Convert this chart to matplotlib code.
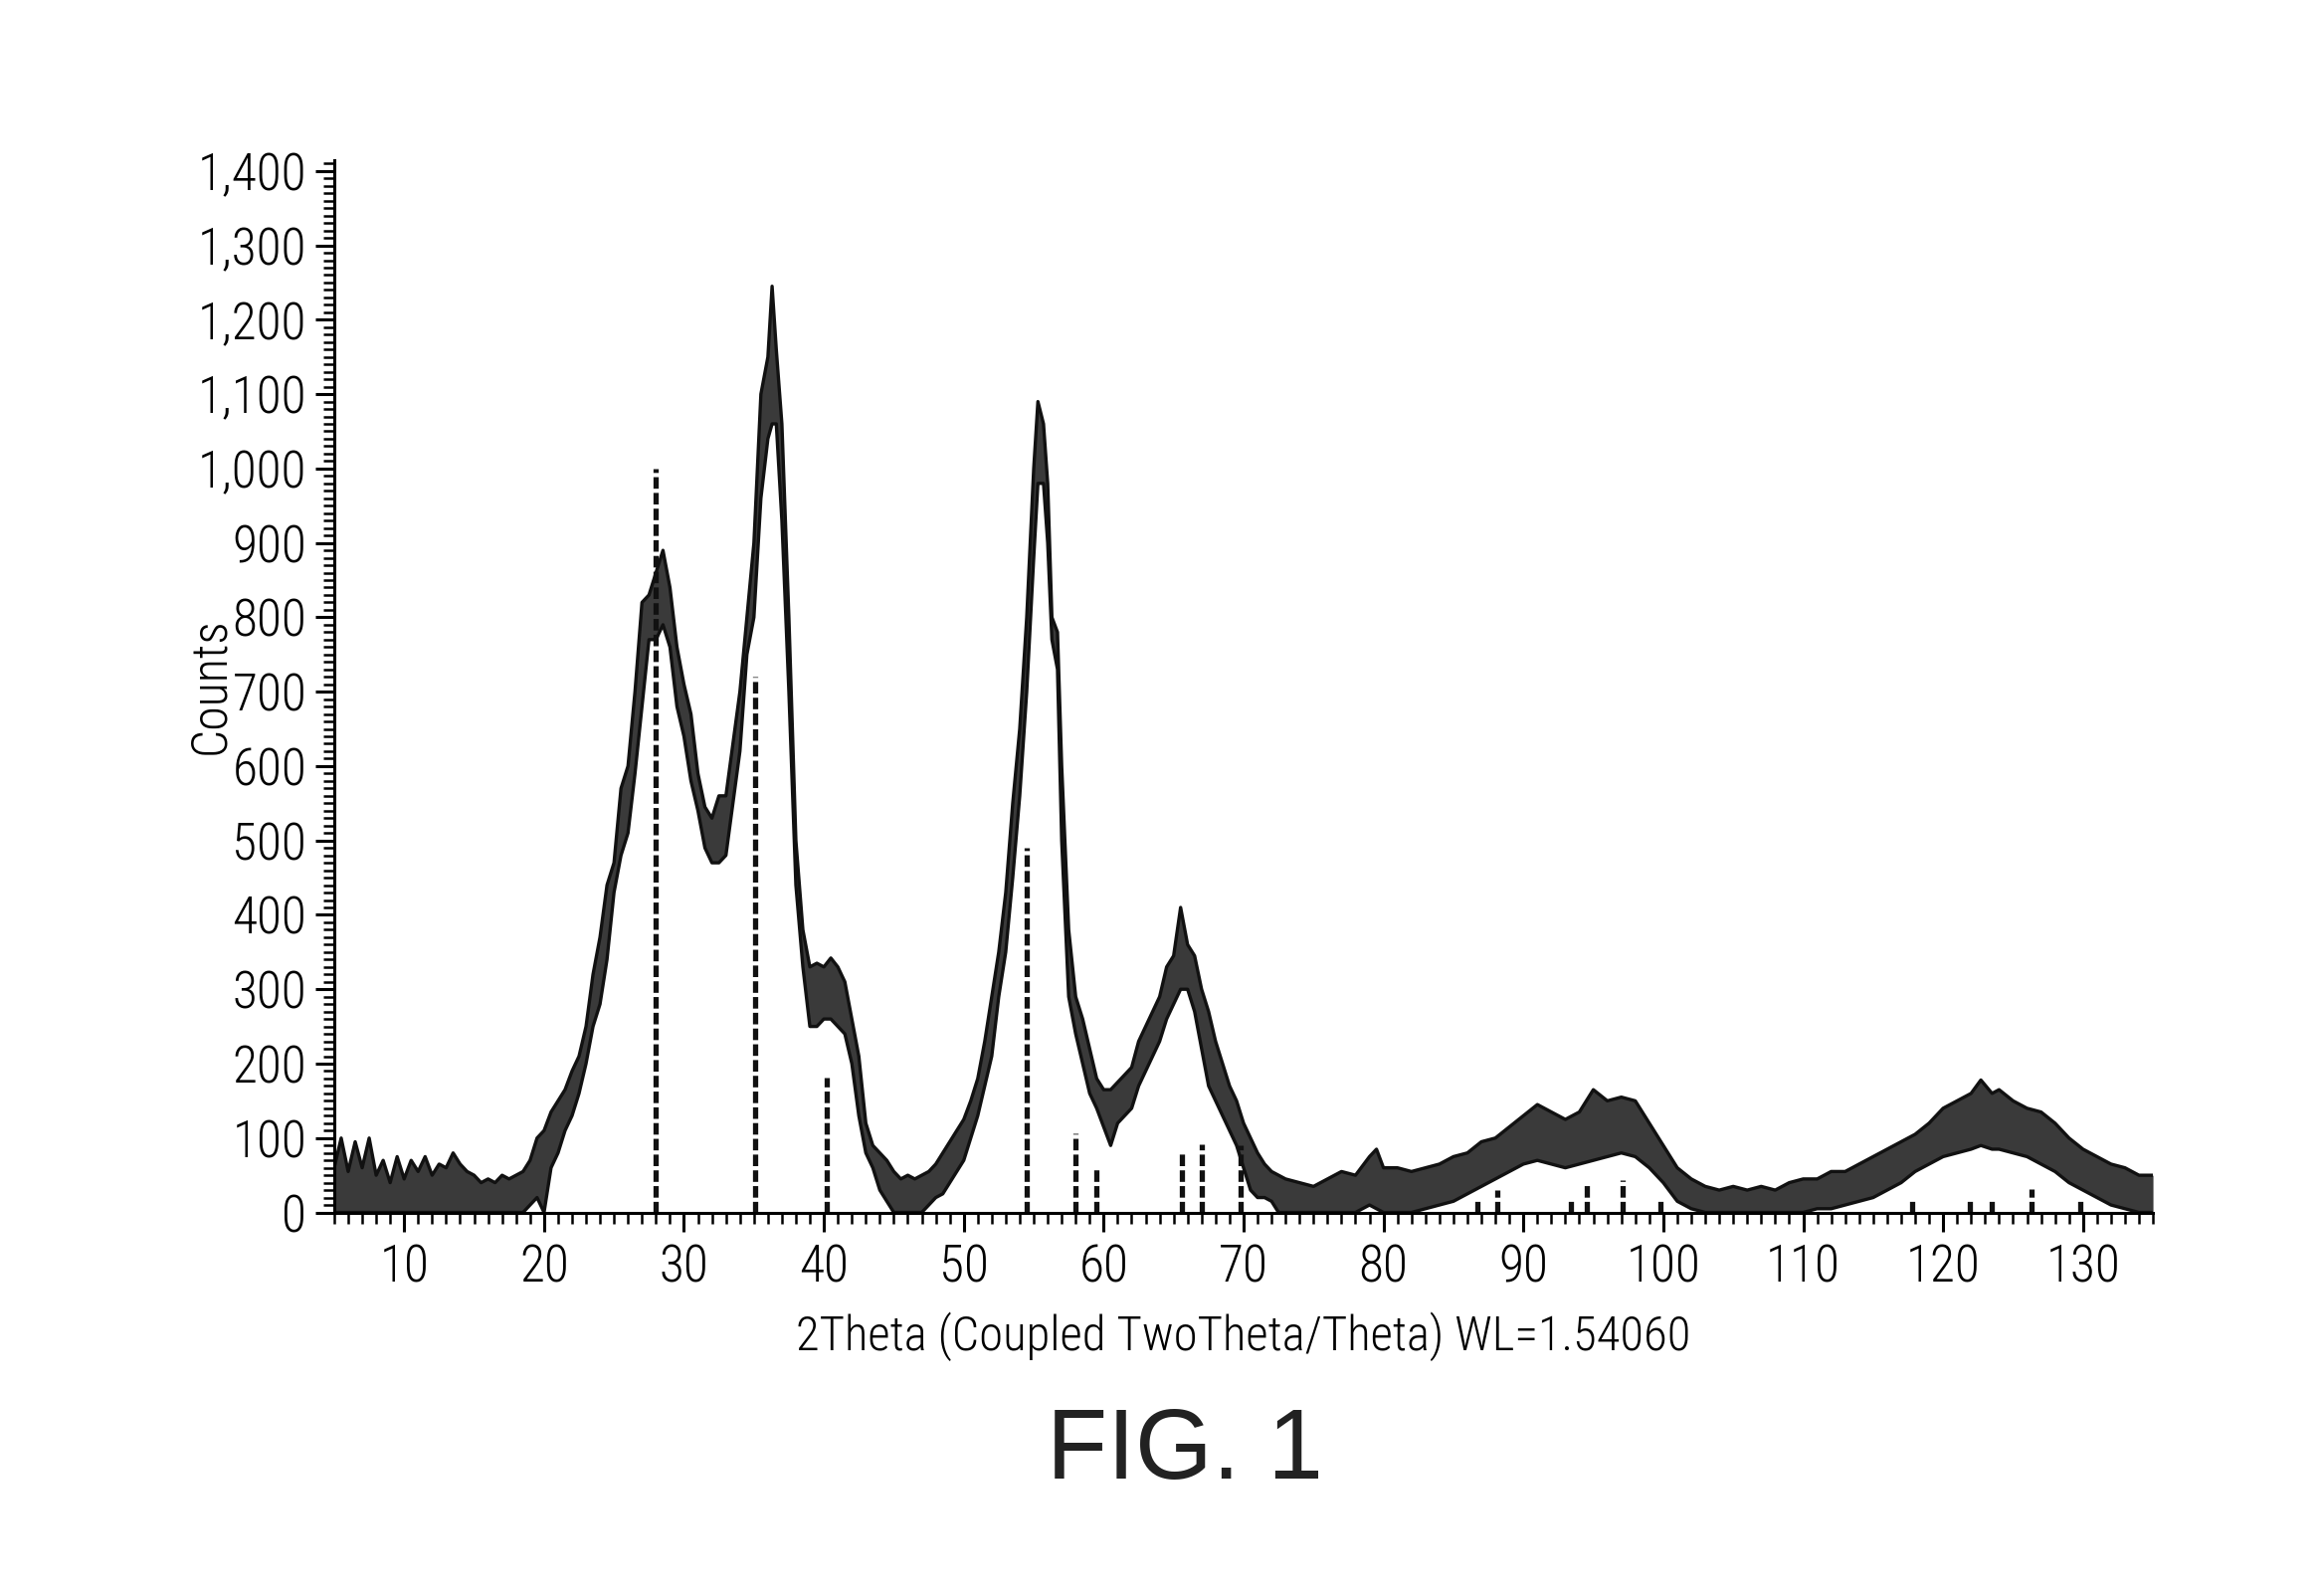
import numpy as np
import matplotlib.pyplot as plt
from matplotlib.ticker import MultipleLocator, FuncFormatter

plt.rcParams['font.family'] = ['Roboto Condensed', 'DejaVu Sans Condensed', 'Liberation Sans Narrow', 'Liberation Sans']
plt.rcParams['font.weight'] = 'light'
plt.rcParams['axes.labelweight'] = 'light'

# measured pattern, read as lower / upper edge of the noisy trace
two_theta = [5.0, 5.5, 6.0, 6.5, 7.0, 7.5, 8.0, 8.5, 9.0, 9.5, 10.0, 10.5, 11.0, 11.5, 12.0,
             12.5, 13.0, 13.5, 14.0, 14.5, 15.0, 15.5, 16.0, 16.5, 17.0, 17.5, 18.0, 18.5,
             19.0, 19.5, 20.0, 20.5, 21.0, 21.5, 22.0, 22.5, 23.0, 23.5, 24.0, 24.5, 25.0,
             25.5, 26.0, 26.5, 27.0, 27.5, 28.0, 28.5, 29.0, 29.5, 30.0, 30.5, 31.0, 31.5,
             32.0, 32.5, 33.0, 33.5, 34.0, 34.5, 35.0, 35.5, 36.0, 36.3, 36.6, 37.0, 37.5,
             38.0, 38.5, 39.0, 39.5, 40.0, 40.5, 41.0, 41.5, 42.0, 42.5, 43.0, 43.5, 44.0,
             44.5, 45.0, 45.5, 46.0, 46.5, 47.0, 47.5, 48.0, 48.5, 49.0, 49.5, 50.0, 50.5,
             51.0, 51.5, 52.0, 52.5, 53.0, 53.5, 54.0, 54.5, 55.0, 55.3, 55.7, 56.0, 56.3,
             56.7, 57.0, 57.5, 58.0, 58.5, 59.0, 59.5, 60.0, 60.5, 61.0, 61.5, 62.0, 62.5,
             63.0, 63.5, 64.0, 64.5, 65.0, 65.5, 66.0, 66.5, 67.0, 67.5, 68.0, 68.5, 69.0,
             69.5, 70.0, 70.5, 71.0, 71.5, 72.0, 72.5, 73.0, 74.0, 75.0, 76.0, 77.0, 78.0,
             79.0, 79.5, 80.0, 81.0, 82.0, 83.0, 84.0, 85.0, 86.0, 87.0, 88.0, 89.0, 90.0,
             91.0, 92.0, 93.0, 94.0, 95.0, 96.0, 97.0, 98.0, 99.0, 100.0, 101.0, 102.0,
             103.0, 104.0, 105.0, 106.0, 107.0, 108.0, 109.0, 110.0, 111.0, 112.0, 113.0,
             114.0, 115.0, 116.0, 117.0, 118.0, 119.0, 120.0, 121.0, 122.0, 122.7, 123.5,
             124.0, 125.0, 126.0, 127.0, 128.0, 129.0, 130.0, 131.0, 132.0, 133.0, 134.0,
             135.0]
counts_low = [0, 0, 0, 0, 0, 0, 0, 0, 0, 0, 0, 0, 0, 0, 0,
              0, 0, 0, 0, 0, 0, 0, 0, 0, 0, 0, 0, 0,
              10, 20, 0, 60, 80, 110, 130, 160, 200, 250, 280, 340, 430,
              480, 510, 590, 680, 770, 770, 790, 760, 680, 640, 580, 540, 490,
              470, 470, 480, 550, 620, 750, 800, 960, 1040, 1060, 1060, 930, 700,
              440, 330, 250, 250, 260, 260, 250, 240, 200, 130, 80, 60, 30,
              15, 0, 0, 0, 0, 0, 10, 20, 25, 40, 55, 70, 100,
              130, 170, 210, 290, 350, 450, 560, 700, 880, 980, 980, 900, 770,
              730, 500, 290, 240, 200, 160, 140, 115, 90, 120, 130, 140, 170,
              190, 210, 230, 260, 280, 300, 300, 270, 220, 170, 150, 130, 110,
              90, 60, 30, 20, 20, 15, 0, 0, 0, 0, 0, 0, 0,
              10, 5, 0, 0, 0, 5, 10, 15, 25, 35, 45, 55, 65,
              70, 65, 60, 65, 70, 75, 80, 75, 60, 40, 15, 5,
              0, 0, 0, 0, 0, 0, 0, 0, 5, 5, 10,
              15, 20, 30, 40, 55, 65, 75, 80, 85, 90, 85,
              85, 80, 75, 65, 55, 40, 30, 20, 10, 5, 0,
              0]
counts_high = [60, 100, 55, 95, 60, 100, 50, 70, 40, 75, 45, 70, 55, 75, 50,
               65, 60, 80, 65, 55, 50, 40, 45, 40, 50, 45, 50, 55,
               70, 100, 110, 135, 150, 165, 190, 210, 250, 320, 370, 440, 470,
               570, 600, 700, 820, 830, 860, 890, 840, 760, 710, 670, 590, 545,
               530, 560, 560, 630, 700, 800, 900, 1100, 1150, 1245, 1160, 1060, 800,
               500, 380, 330, 335, 330, 342, 330, 310, 260, 210, 120, 90, 80,
               70, 55, 45, 50, 45, 50, 55, 65, 80, 95, 110, 125, 150,
               180, 230, 290, 350, 430, 550, 650, 800, 1000, 1090, 1060, 980, 800,
               780, 600, 380, 290, 260, 220, 180, 165, 165, 175, 185, 195, 230,
               250, 270, 290, 330, 345, 410, 360, 345, 300, 270, 230, 200, 170,
               150, 120, 100, 80, 65, 55, 50, 45, 40, 35, 45, 55, 50,
               75, 85, 60, 60, 55, 60, 65, 75, 80, 95, 100, 115, 130,
               145, 135, 125, 135, 165, 150, 155, 150, 120, 90, 60, 45,
               35, 30, 35, 30, 35, 30, 40, 45, 45, 55, 55,
               65, 75, 85, 95, 105, 120, 140, 150, 160, 178, 160,
               165, 150, 140, 135, 120, 100, 85, 75, 65, 60, 50,
               50]

# reference pattern sticks
stick_pos = [28.0, 35.1, 40.2, 54.5, 58.0, 59.5, 65.6, 67.0, 69.8, 86.7, 88.1, 93.4,
             94.5, 97.1, 99.8, 117.8, 121.9, 123.5, 126.3, 129.8]
stick_height = [1000, 720, 181, 490, 106, 59, 84, 92, 90, 17, 30, 18,
                41, 44, 17, 19, 17, 19, 32, 19]

fig = plt.figure(figsize=(23.36, 16.01), dpi=100)
ax = fig.add_axes([0.1438, 0.2389, 0.7826, 0.6608])

ax.fill_between(two_theta, counts_low, counts_high, color='#3a3a3a', lw=0)
ax.plot(two_theta, counts_high, color='#111111', lw=2.4)
ax.plot(two_theta, counts_low, color='#111111', lw=2.4)
ax.vlines(stick_pos, 0, stick_height, colors='#111111', linestyles=(0, (2.2, 0.8)), lw=3.8)

ax.set_xlim(5, 135)
ax.set_ylim(0, 1415)

for s in ['top', 'right']:
    ax.spines[s].set_visible(False)
for s in ['left', 'bottom']:
    ax.spines[s].set_linewidth(2.2)

ax.xaxis.set_major_locator(MultipleLocator(10))
ax.xaxis.set_minor_locator(MultipleLocator(1))
ax.yaxis.set_major_locator(MultipleLocator(100))
ax.yaxis.set_minor_locator(MultipleLocator(10))
ax.yaxis.set_major_formatter(FuncFormatter(lambda v, p: f"{int(v):,}"))

ax.tick_params(which='major', direction='out', length=14, width=2.2, labelsize=37)
ax.tick_params(which='minor', direction='out', length=8, width=1.8)
ax.tick_params(axis='x', which='major', pad=8)
ax.tick_params(axis='y', which='major', pad=6)

ax.set_xlabel('2Theta (Coupled TwoTheta/Theta) WL=1.54060', fontsize=35, va='center', fontweight='light')
ax.xaxis.set_label_coords(0.5, -0.118)
ax.set_ylabel('Counts', fontsize=36, va='center', fontweight='light')
ax.yaxis.set_label_coords(-0.068, 0.5)

fig.text(0.510, 0.088, 'FIG. 1', fontsize=72, ha='center', va='center',
         family=['Liberation Sans', 'DejaVu Sans'], weight='normal', color='#222222')

fig.savefig('out.png', dpi=100)
